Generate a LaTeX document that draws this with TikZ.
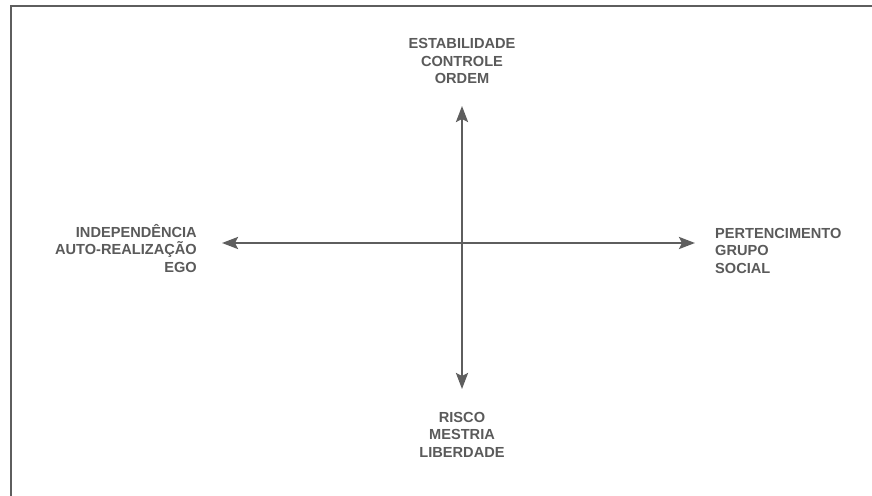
\documentclass[tikz,border=0pt]{standalone}
\usepackage{fontspec}
\setmainfont{Liberation Sans}
\usepackage{xcolor}
\usetikzlibrary{positioning, arrows.meta}
\definecolor{axgrey}{HTML}{5E5E5E}
\definecolor{txtgrey}{HTML}{5A5A5A}

\begin{document}
\begin{tikzpicture}[
    x=1pt, y=-1pt,
    lbl/.style={font=\fontsize{14.6}{17.5}\selectfont\bfseries,
                text=txtgrey, inner sep=0pt},
    axis/.style={{Stealth[length=16pt, width=12pt, inset=3pt]}-{Stealth[length=16pt, width=12pt, inset=3pt]},
                 line width=2.4pt, draw=axgrey},
    frameline/.style={line width=2.2pt, draw=axgrey},
]
\useasboundingbox (0,0) rectangle (872,495);

% --- frame (top and left edges) ---
\draw[frameline] (11,497) -- (11,6) -- (874,6);

% --- axis ends ---
\coordinate (up)    at (462,106);
\coordinate (down)  at (462,389);
\coordinate (west)  at (222,243);
\coordinate (east)  at (695,243);

% --- axes ---
\draw[axis] (down) -- (up);
\draw[axis] (west) -- (east);

% --- labels ---
\node[lbl, align=center, above=22pt of up] (stab)
    {ESTABILIDADE\\CONTROLE\\ORDEM};
\node[lbl, align=center, below=23pt of down] (risco)
    {RISCO\\MESTRIA\\LIBERDADE};
\node[lbl, align=right, anchor=north east] (indep) at (197,224)
    {INDEPEND\^ENCIA\\AUTO-REALIZA\c{C}\~AO\\EGO};
\node[lbl, align=left, anchor=north west] (pert) at (715,228)
    {PERTENCIMENTO\\GRUPO\\SOCIAL};

\end{tikzpicture}
\end{document}
